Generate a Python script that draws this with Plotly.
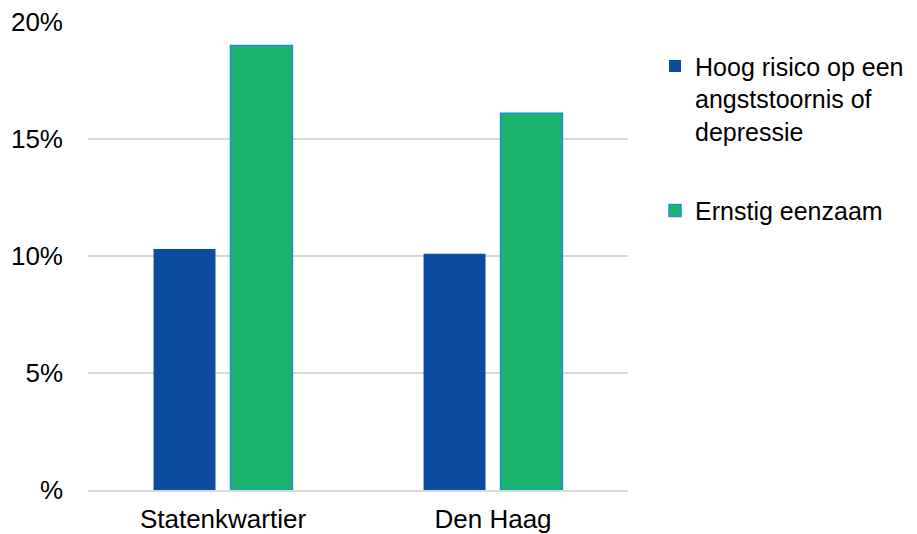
import plotly.graph_objects as go

categories = ["Statenkwartier", "Den Haag"]
hoog_risico = [0.103, 0.101]
ernstig_eenzaam = [0.190, 0.161]
tick_vals = [0, 0.05, 0.10, 0.15, 0.20]
tick_text = ["%", "5%", "10%", "15%", "20%"]

FONT = "Liberation Sans, Arial, sans-serif"
FS = 26
LFS = 25

fig = go.Figure()
fig.add_trace(go.Bar(
    x=categories, y=hoog_risico,
    name="Hoog risico op een<br>angststoornis of<br>depressie",
    legendgroup="a",
    marker=dict(color="#0B4CA0", line=dict(width=0)),
))
fig.add_trace(go.Bar(
    x=categories, y=ernstig_eenzaam,
    name="Ernstig eenzaam",
    legendgroup="b",
    marker=dict(color="#1BB36C", line=dict(color="#1E8FD8", width=1.5)),
))

fig.update_layout(
    width=917, height=534,
    margin=dict(l=80, r=297, t=14, b=52, autoexpand=False),
    paper_bgcolor="white", plot_bgcolor="white",
    barmode="group", bargap=0.43, bargroupgap=0.195,
    font=dict(family=FONT, size=FS, color="#000000"),
    legend=dict(
        xref="container", yref="container",
        x=0.7056, xanchor="left", y=0.934, yanchor="top",
        valign="top", tracegroupgap=44,
        font=dict(family=FONT, size=LFS, color="#000000"),
        itemwidth=30,
    ),
    showlegend=True,
)
fig.update_yaxes(
    range=[0, 0.2], tickvals=tick_vals, ticktext=tick_text,
    showgrid=True, gridcolor="#D9D9D9", gridwidth=1.5,
    zeroline=False, showline=False, ticks="", ticklabelstandoff=24,
    automargin=False, ticklabeloverflow="allow",
    tickfont=dict(family=FONT, size=FS, color="#000000"),
)
fig.update_xaxes(
    showline=True, linecolor="#D9D9D9", linewidth=1.5,
    ticks="", showgrid=False, ticklabelstandoff=5, automargin=False,
    tickfont=dict(family=FONT, size=FS, color="#000000"),
)

fig.write_html("out.html")
